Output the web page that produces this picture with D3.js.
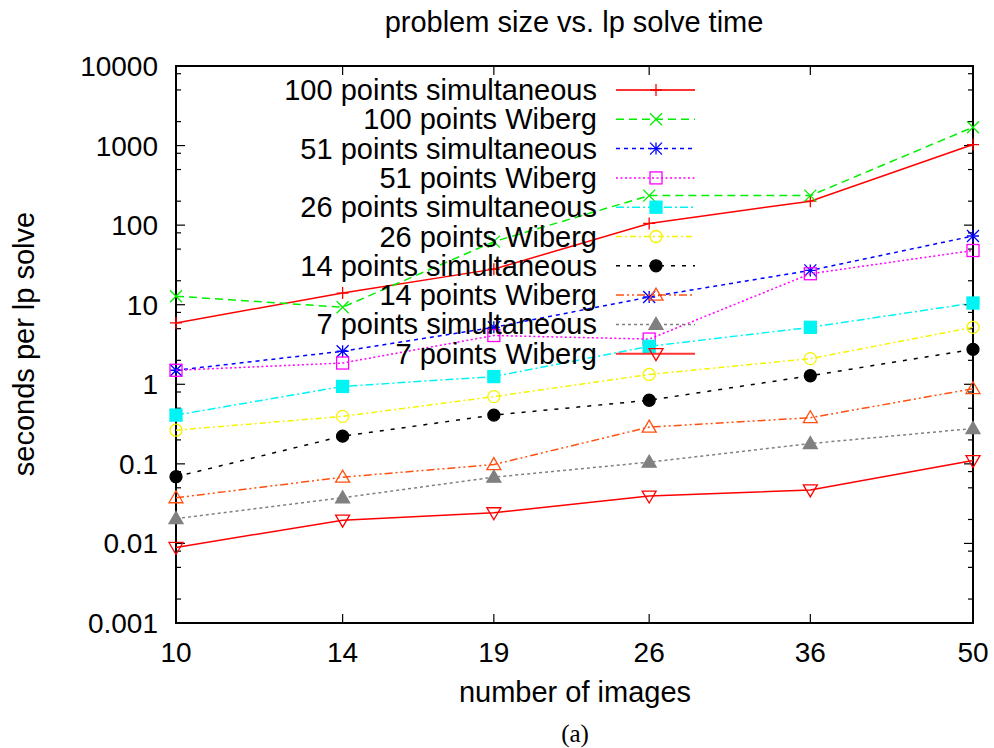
<!DOCTYPE html>
<html>
<head>
<meta charset="utf-8">
<script src="https://cdn.jsdelivr.net/npm/d3@7"></script>
<style>
  body { margin: 0; background: #fff; }
  svg text { font-family: "Liberation Sans", Arial, Helvetica, sans-serif; fill: #000; }
</style>
</head>
<body>
<svg id="canvas" width="994" height="748"></svg>
<script>
// number of images (x) and seconds per lp solve for each series
let images = [10, 14, 19, 26, 36, 50]
let xTicks = [10, 14, 19, 26, 36, 50]
let yTicks = [0.001, 0.01, 0.1, 1, 10, 100, 1000, 10000]

let sim100 = [5.9, 14, 28, 105, 200, 1030]
let wib100 = [12.8, 9.3, 62, 235, 235, 1700]
let sim51 = [1.5, 2.6, 5.2, 12.5, 27, 73]
let wib51 = [1.5, 1.85, 4.1, 3.7, 24.5, 48]
let sim26 = [0.41, 0.94, 1.25, 3.0, 5.2, 10.5]
let wib26 = [0.265, 0.395, 0.7, 1.33, 2.1, 5.2]
let sim14 = [0.069, 0.223, 0.41, 0.63, 1.28, 2.75]
let wib14 = [0.0375, 0.068, 0.098, 0.29, 0.38, 0.88]
let sim7 = [0.0205, 0.0375, 0.068, 0.105, 0.18, 0.278]
let wib7 = [0.0089, 0.0196, 0.0243, 0.0394, 0.047, 0.11]

let seriesNames = [
    "100 points simultaneous", "100 points Wiberg",
    "51 points simultaneous", "51 points Wiberg",
    "26 points simultaneous", "26 points Wiberg",
    "14 points simultaneous", "14 points Wiberg",
    "7 points simultaneous", "7 points Wiberg"
]
let seriesValues = [sim100, wib100, sim51, wib51, sim26, wib26, sim14, wib14, sim7, wib7]

// gnuplot-ish line types
let styles = [
    {color: "#ff0000", dash: null,            marker: "plus"},
    {color: "#00f000", dash: "8,5",           marker: "cross"},
    {color: "#0000ff", dash: "4,4",           marker: "star"},
    {color: "#ff00ff", dash: "2,2.5",         marker: "square"},
    {color: "#00f4f4", dash: "8,3,2,3",       marker: "fsquare"},
    {color: "#f4f400", dash: "6,3,2,3",       marker: "circle"},
    {color: "#000000", dash: "4,7",           marker: "fcircle"},
    {color: "#ff5010", dash: "8,3,2,3,2,3",   marker: "triangle"},
    {color: "#808080", dash: "3,3",           marker: "ftriangle"},
    {color: "#ff0000", dash: null,            marker: "itriangle"}
]

let plotL = 176, plotR = 973, plotT = 66, plotB = 623

let canvas = d3.select("#canvas")

let xScale = d3.scaleLog().domain([10, 50]).range([plotL, plotR])
let yScale = d3.scaleLog().domain([0.001, 10000]).range([plotB, plotT])

// minor ticks at 2, 5, 8 of each decade
let minorY = []
yTicks.slice(0, -1).forEach(d => {
    [2, 5, 8].forEach(m => minorY.push(d * m))
})

let axes = canvas.append("g").attr("stroke", "#000").attr("stroke-width", 1.2)

yTicks.forEach(v => {
    let y = yScale(v)
    axes.append("line").attr("x1", plotL).attr("x2", plotL + 9).attr("y1", y).attr("y2", y)
    axes.append("line").attr("x1", plotR).attr("x2", plotR - 9).attr("y1", y).attr("y2", y)
})
minorY.forEach(v => {
    let y = yScale(v)
    axes.append("line").attr("x1", plotL).attr("x2", plotL + 5).attr("y1", y).attr("y2", y)
    axes.append("line").attr("x1", plotR).attr("x2", plotR - 5).attr("y1", y).attr("y2", y)
})
xTicks.forEach(v => {
    let x = xScale(v)
    axes.append("line").attr("x1", x).attr("x2", x).attr("y1", plotB).attr("y2", plotB - 9)
    axes.append("line").attr("x1", x).attr("x2", x).attr("y1", plotT).attr("y2", plotT + 9)
})

canvas.append("rect")
    .attr("x", plotL).attr("y", plotT)
    .attr("width", plotR - plotL).attr("height", plotB - plotT)
    .attr("fill", "none").attr("stroke", "#000").attr("stroke-width", 2)

canvas.append("g").selectAll("text")
    .data(yTicks)
    .enter()
    .append("text")
    .attr("x", plotL - 18)
    .attr("y", d => yScale(d) + 10)
    .attr("text-anchor", "end")
    .attr("font-size", 28)
    .text(d => String(d))

canvas.append("g").selectAll("text")
    .data(xTicks)
    .enter()
    .append("text")
    .attr("x", d => xScale(d))
    .attr("y", 662)
    .attr("text-anchor", "middle")
    .attr("font-size", 28)
    .text(d => d)

canvas.append("text")
    .attr("x", 574).attr("y", 32)
    .attr("text-anchor", "middle")
    .attr("font-size", 29)
    .text("problem size vs. lp solve time")

canvas.append("text")
    .attr("x", 575).attr("y", 702)
    .attr("text-anchor", "middle")
    .attr("font-size", 29)
    .text("number of images")

canvas.append("text")
    .attr("transform", "translate(34,344) rotate(-90)")
    .attr("text-anchor", "middle")
    .attr("font-size", 29)
    .text("seconds per lp solve")

canvas.append("text")
    .attr("x", 575).attr("y", 742)
    .attr("text-anchor", "middle")
    .attr("font-size", 25)
    .style("font-family", "'Liberation Serif', 'Times New Roman', serif")
    .text("(a)")

let drawMarker = (g, kind, x, y, color) => {
    let s = 6
    let m = g.append("g").attr("transform", "translate(" + x + "," + y + ")")
    if (kind === "plus" || kind === "star") {
        m.append("path").attr("d", `M${-s},0H${s}M0,${-s}V${s}`)
    }
    if (kind === "cross" || kind === "star") {
        m.append("path").attr("d", `M${-s},${-s}L${s},${s}M${-s},${s}L${s},${-s}`)
    }
    if (kind === "square" || kind === "fsquare") {
        m.append("rect").attr("x", -s).attr("y", -s).attr("width", 2 * s).attr("height", 2 * s)
            .attr("fill", kind === "fsquare" ? color : "none")
    }
    if (kind === "circle" || kind === "fcircle") {
        m.append("circle").attr("r", s).attr("fill", kind === "fcircle" ? color : "none")
    }
    if (kind === "triangle" || kind === "ftriangle") {
        m.append("path").attr("d", `M0,${-s - 1}L${s + 1},${s - 1}L${-s - 1},${s - 1}Z`)
            .attr("fill", kind === "ftriangle" ? color : "none")
    }
    if (kind === "itriangle") {
        m.append("path").attr("d", `M0,${s + 1}L${s + 1},${-s + 1}L${-s - 1},${-s + 1}Z`)
            .attr("fill", "none")
    }
    m.attr("stroke", color).attr("stroke-width", 1.3)
}

let line = d3.line()
    .x(d => xScale(d[0]))
    .y(d => yScale(d[1]))

let legendTop = 90, legendStep = 29.3

seriesValues.forEach((vals, i) => {
    let st = styles[i]
    let pts = images.map((x, j) => [x, vals[j]])
    let g = canvas.append("g")

    // key
    let ky = legendTop + i * legendStep
    g.append("text")
        .attr("x", 597).attr("y", ky + 10)
        .attr("text-anchor", "end")
        .attr("font-size", 29)
        .text(seriesNames[i])
    g.append("line")
        .attr("x1", 616).attr("x2", 695).attr("y1", ky).attr("y2", ky)
        .attr("stroke", st.color).attr("stroke-width", st.dash ? 1.5 : 2)
        .attr("stroke-opacity", st.dash ? 1 : 0.8)
        .attr("stroke-dasharray", st.dash)
    drawMarker(g, st.marker, 656, ky, st.color)

    g.append("path")
        .datum(pts)
        .attr("d", line)
        .attr("fill", "none")
        .attr("stroke", st.color)
        .attr("stroke-width", 1.5)
        .attr("stroke-dasharray", st.dash)

    pts.forEach(p => drawMarker(g, st.marker, xScale(p[0]), yScale(p[1]), st.color))
})
</script>
</body>
</html>
